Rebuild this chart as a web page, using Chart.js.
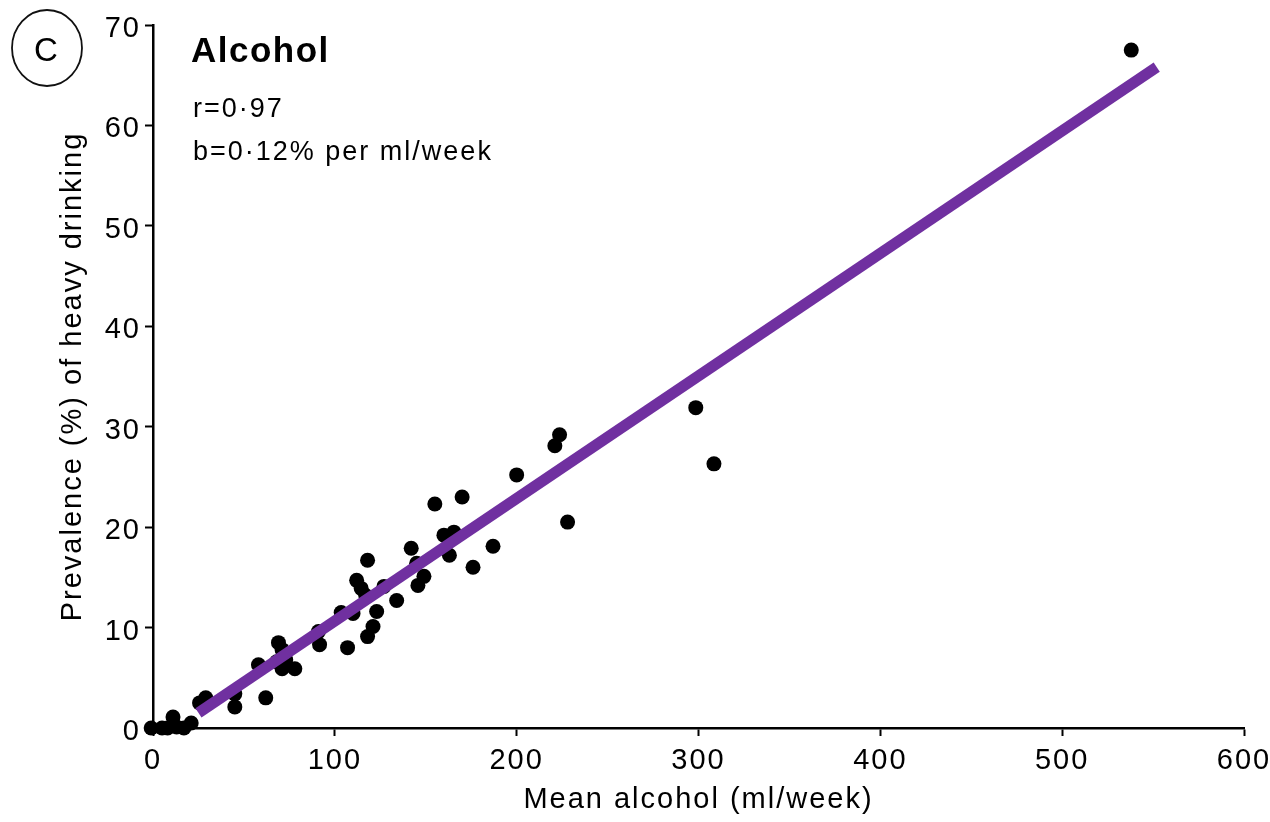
<!DOCTYPE html>
<html>
<head>
<meta charset="utf-8">
<script src="https://cdn.jsdelivr.net/npm/chart.js@4.4.0/dist/chart.umd.min.js"></script>
<style>
  html, body { margin: 0; padding: 0; background: #fff; }
  #wrap { width: 1270px; height: 822px; }
</style>
</head>
<body>
<div id="wrap"><canvas id="chart" width="1270" height="822"></canvas></div>
<script>
// Mean alcohol (ml/week) and prevalence (%) of heavy drinking, per population
const alcohol = [-1, 5, 8, 11, 13, 17, 21, 25.6, 29, 45, 45, 62, 58, 69, 71, 68, 73, 71, 78,
  91.6, 91, 107, 103.5, 110, 112, 114.5, 117, 118, 118, 121, 123, 127, 134, 142, 145, 145.7,
  149, 155, 160, 165.5, 163, 170, 176, 187, 200, 221, 223.6, 228, 298.5, 308.5, 538];
const heavy = [0, 0, 0, 1.1, 0.1, 0, 0.5, 2.5, 3.0, 2.1, 3.4, 3.0, 6.3, 8.5, 7.8, 6.6, 6.8, 5.9, 5.9,
  8.3, 9.6, 8.0, 11.5, 11.4, 14.7, 13.9, 13.2, 16.7, 9.1, 10.1, 11.6, 14.1, 12.7, 17.9, 16.4, 14.2,
  15.1, 22.3, 19.2, 19.5, 17.2, 23.0, 16.0, 18.1, 25.2, 28.1, 29.2, 20.5, 31.9, 26.3, 67.5];

// fitted regression line (ends as drawn)
const fitX = [25, 552];
const fitY = [1.5, 65.8];

const xTicks = [0, 100, 200, 300, 400, 500, 600];
const yTicks = [0, 10, 20, 30, 40, 50, 60, 70];

const panelLetter = "C";
const panelTitle = "Alcohol";
const statLines = ["r=0·97", "b=0·12% per ml/week"];

const FONT = '"Liberation Sans", Arial, Helvetica, sans-serif';

// annotations: circled letter, title and stats
const annotations = {
  id: "annotations",
  beforeLayout(chart) { chart.ctx.letterSpacing = "2px"; },
  beforeDraw(chart) { chart.ctx.letterSpacing = "2px"; },
  afterDraw(chart) {
    const ctx = chart.ctx;
    ctx.save();
    ctx.fillStyle = "#000";
    ctx.strokeStyle = "#111";
    ctx.lineWidth = 1.8;
    ctx.beginPath();
    ctx.ellipse(47, 48, 35, 38, 0, 0, Math.PI * 2);
    ctx.stroke();

    ctx.letterSpacing = "0px";
    ctx.font = "33px " + FONT;
    ctx.textAlign = "center";
    ctx.textBaseline = "middle";
    ctx.fillText(panelLetter, 46, 52);

    ctx.textAlign = "left";
    ctx.textBaseline = "alphabetic";
    ctx.letterSpacing = "1.5px";
    ctx.font = "bold 35px " + FONT;
    ctx.fillText(panelTitle, 191, 62);
    ctx.letterSpacing = "2px";
    ctx.font = "27px " + FONT;
    ctx.fillText(statLines[0], 193, 117);
    ctx.fillText(statLines[1], 193, 160);
    ctx.restore();
  }
};

const points = alcohol.map((x, i) => ({ x: x, y: heavy[i] }));
const fitLine = fitX.map((x, i) => ({ x: x, y: fitY[i] }));

new Chart(document.getElementById("chart").getContext("2d"), {
  type: "scatter",
  data: {
    datasets: [
      {
        type: "line",
        data: fitLine,
        borderColor: "#7030A0",
        borderWidth: 11,
        pointRadius: 0,
        fill: false,
        order: 0
      },
      {
        data: points,
        backgroundColor: "#000",
        borderWidth: 0,
        pointRadius: 7.5,
        clip: false,
        order: 1
      }
    ]
  },
  options: {
    responsive: false,
    animation: false,
    devicePixelRatio: 1,
    events: [],
    layout: { padding: { left: 0, right: 26, top: 25, bottom: 0 } },
    plugins: { legend: { display: false }, tooltip: { enabled: false } },
    scales: {
      x: {
        type: "linear",
        min: 0,
        max: 600,
        afterBuildTicks: s => { s.ticks = xTicks.map(v => ({ value: v })); },
        afterFit: s => { s.height = 94; s.paddingLeft = 0; s.paddingRight = 0; },
        ticks: { color: "#000", font: { family: FONT, size: 29 }, padding: 8, maxRotation: 0 },
        grid: { drawOnChartArea: false, drawTicks: true, tickLength: 8, color: "#000", tickWidth: 2 },
        border: { display: true, color: "#000", width: 2.5 },
        title: {
          display: true,
          text: "Mean alcohol (ml/week)",
          color: "#000",
          font: { family: FONT, size: 29 },
          padding: { top: 6, bottom: 5 }
        }
      },
      y: {
        type: "linear",
        min: 0,
        max: 70,
        afterBuildTicks: s => { s.ticks = yTicks.map(v => ({ value: v })); },
        afterFit: s => { s.width = 153; s.paddingTop = 0; s.paddingBottom = 0; },
        ticks: { color: "#000", font: { family: FONT, size: 29 }, padding: 4, labelOffset: 4 },
        grid: { drawOnChartArea: false, drawTicks: true, tickLength: 8, color: "#000", tickWidth: 2 },
        border: { display: true, color: "#000", width: 2.5 },
        title: {
          display: true,
          text: "Prevalence (%) of heavy drinking",
          color: "#000",
          font: { family: FONT, size: 29 },
          padding: { top: 56, bottom: 0 }
        }
      }
    }
  },
  plugins: [annotations]
});
</script>
</body>
</html>
